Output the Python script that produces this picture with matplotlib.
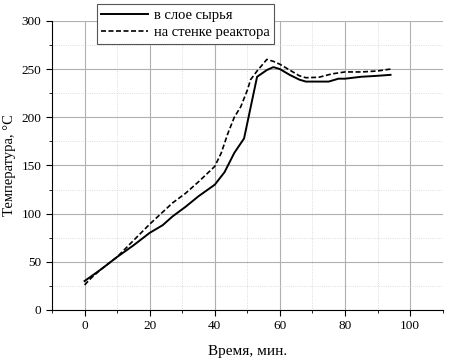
import numpy as np
import matplotlib.pyplot as plt
from matplotlib.ticker import MultipleLocator

plt.rcParams['font.family'] = ['Liberation Serif', 'DejaVu Serif']

# data
t_layer = [0, 5, 10, 15, 20, 24, 27, 31, 35, 40, 43, 46, 49, 50, 51.5, 53, 56, 58, 60, 63, 66, 68, 75, 78, 80, 85, 90, 94]
T_layer = [30, 42, 55, 67, 80, 88, 97, 107, 118, 130, 143, 163, 178, 194, 218, 242, 249, 252, 250, 244, 239, 237, 237, 240, 240, 242, 243, 244]

t_wall = [0, 2, 5, 10, 15, 20, 27, 31, 35, 40, 42, 44, 46, 48, 50, 51, 53, 56, 58, 60, 63, 66, 68, 72, 76, 80, 85, 90, 94]
T_wall = [26, 33, 42, 55, 72, 89, 111, 121, 133, 149, 163, 183, 200, 211, 228, 239, 248, 260, 258, 255, 249, 243, 241, 241.5, 245, 247, 247, 248, 250]

fig = plt.figure(figsize=(4.5, 3.6), dpi=100)
ax = fig.add_axes([0.1156, 0.139, 0.868, 0.803])

ax.plot(t_layer, T_layer, color='black', lw=1.4, label='в слое сырья')
ax.plot(t_wall, T_wall, color='black', lw=1.2, ls=(0, (3, 1.5)), label='на стенке реактора')

ax.set_xlim(-10, 110)
ax.set_ylim(0, 300)
ax.xaxis.set_major_locator(MultipleLocator(20))
ax.xaxis.set_minor_locator(MultipleLocator(10))
ax.yaxis.set_major_locator(MultipleLocator(50))
ax.yaxis.set_minor_locator(MultipleLocator(25))

ax.set_axisbelow(True)
ax.grid(True, which='major', color='#b0b0b0', lw=0.8)
ax.grid(True, which='minor', color='#d0d0d0', lw=0.6, ls=':')

ax.spines['top'].set_visible(False)
ax.spines['right'].set_visible(False)
ax.tick_params(which='both', direction='out', labelsize=9.5)
ax.tick_params(which='major', length=4)
ax.tick_params(which='minor', length=2.5)

ax.set_xlabel('Время, мин.', fontsize=11, labelpad=9)
ax.set_ylabel('Температура, °C', fontsize=10.5, labelpad=4)

leg = ax.legend(loc='upper left', bbox_to_anchor=(0.115, 1.058), fontsize=10.5,
                frameon=True, fancybox=False, edgecolor='#555555',
                handlelength=3.2, handletextpad=0.4, borderpad=0.3,
                labelspacing=0.3, borderaxespad=0)
leg.get_frame().set_linewidth(0.8)
leg.get_frame().set_alpha(1)

fig.savefig('out.png', dpi=100)
